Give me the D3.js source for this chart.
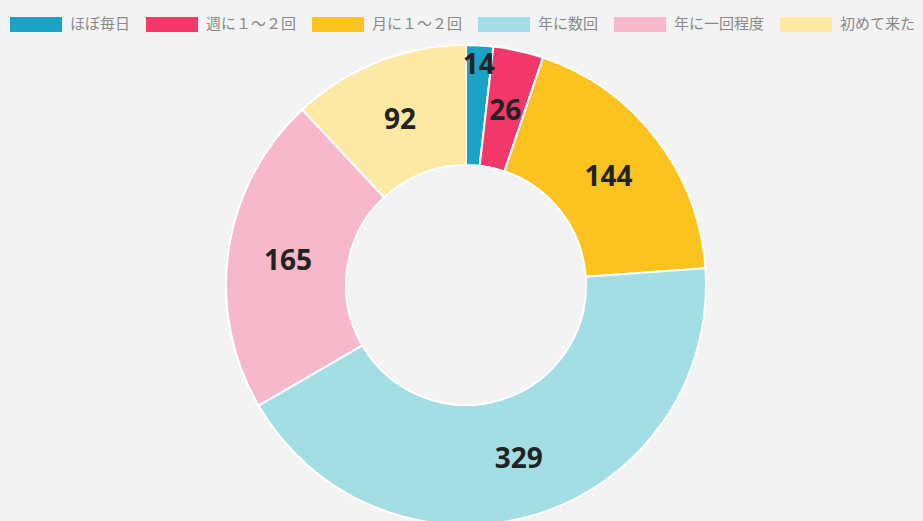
<!DOCTYPE html>
<html><head><meta charset="utf-8">
<script src="https://cdn.jsdelivr.net/npm/d3@7"></script>
<style>
html,body{margin:0;padding:0;background:#f3f3f3;overflow:hidden;}
svg{display:block;}
</style></head>
<body>
<svg id="chart" width="923" height="521"></svg>
<script>
const categories = ["ほぼ毎日", "週に１～２回", "月に１～２回", "年に数回", "年に一回程度", "初めて来た"];
const values = [14, 26, 144, 329, 165, 92];
const colors = ["#1ba3c6", "#f2386b", "#fcc21f", "#a3dee5", "#f6b8ca", "#fde9a3"];

const W = 923, H = 521;
const svg = d3.select("#chart");
svg.append("rect").attr("width", W).attr("height", H).attr("fill", "#f3f3f3");

// Legend
const legend = svg.append("g");
let lx = 10;
categories.forEach((c, i) => {
  legend.append("rect").attr("x", lx).attr("y", 17).attr("width", 52).attr("height", 15).attr("fill", colors[i]);
  const t = legend.append("text").attr("x", lx + 52 + 8).attr("y", 29)
    .attr("font-family", "'Noto Sans CJK JP', 'Noto Sans', sans-serif")
    .attr("font-size", 15).attr("fill", "#8a8a8a").text(c);
  const w = t.node().getComputedTextLength();
  lx += 52 + 8 + w + 16;
});

// Donut
const cx = 466, cy = 285, rOuter = 240, rInner = 120;
const pie = d3.pie().sort(null).value(d => d)(values);
const arc = d3.arc().innerRadius(rInner).outerRadius(rOuter);
const g = svg.append("g").attr("transform", `translate(${cx},${cy})`);
g.selectAll("path").data(pie).join("path")
  .attr("d", arc)
  .attr("fill", (d, i) => colors[i])
  .attr("stroke", "#ffffff").attr("stroke-width", 2);

// Labels at arc centroids; a label that collides with its neighbour moves to the outer edge
const fs = 28;
const rMid = (rInner + rOuter) / 2;
const boxes = pie.map((d, i) => {
  const mid = (d.startAngle + d.endAngle) / 2;
  const txt = String(values[i]);
  return { mid, txt, w: txt.length * fs * 0.58, h: fs * 0.95, x: rMid * Math.sin(mid), y: -rMid * Math.cos(mid) };
});
const hit = (a, b) => Math.abs(a.x - b.x) < (a.w + b.w) / 2 && Math.abs(a.y - b.y) < (a.h + b.h) / 2;
boxes.forEach((b, i) => {
  const nb = boxes[i + 1];
  if (nb && hit(b, nb) && values[i] < values[i + 1]) {
    const r = rOuter - 18;
    b.x = r * Math.sin(b.mid); b.y = -r * Math.cos(b.mid);
  }
});
boxes.forEach(b => {
  g.append("text").attr("x", b.x).attr("y", b.y)
    .attr("text-anchor", "middle").attr("dominant-baseline", "central")
    .attr("font-family", "'Noto Sans', 'Open Sans', sans-serif")
    .attr("font-weight", "bold").attr("font-size", fs).attr("fill", "#222")
    .text(b.txt);
});
</script>
</body></html>
